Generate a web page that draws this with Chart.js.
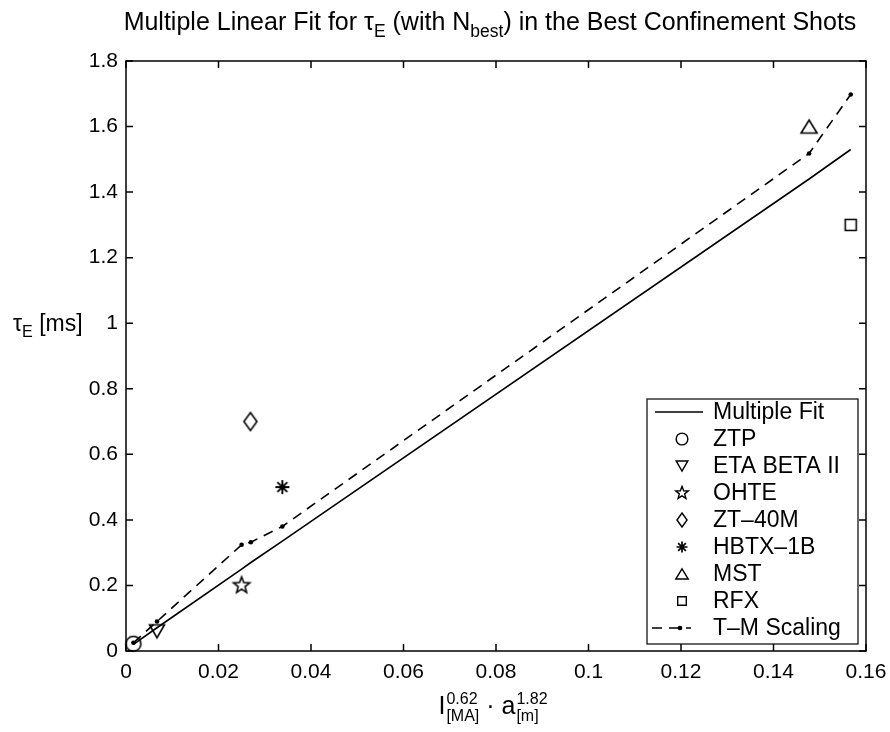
<!DOCTYPE html>
<html>
<head>
<meta charset="utf-8">
<script src="https://cdn.jsdelivr.net/npm/chart.js@4.4.1/dist/chart.umd.min.js"></script>
<style>
  body { margin: 0; background: #fff; }
  #wrap { position: relative; width: 890px; height: 732px; font-family: "Liberation Sans", Arial, sans-serif; color: #000; }
  #chart { position: absolute; left: 0; top: 0; }
  .lbl { position: absolute; white-space: nowrap; }
  .lbl sub { font-size: 70%; vertical-align: -0.4em; line-height: 0; }
  #title { left: 490px; top: 7px; transform: translateX(-50%); font-size: 25px; }
  #ylabel { left: 13px; top: 310px; font-size: 23px; }
  #xlabel { left: 493px; top: 690px; transform: translateX(-50%); font-size: 25px; }
  .ss { display: inline-flex; flex-direction: column; font-size: 16px; line-height: 17px; vertical-align: middle; margin-left: 1px; }
</style>
</head>
<body>
<div id="wrap">
  <canvas id="chart" width="890" height="732"></canvas>
  <div id="title" class="lbl">Multiple Linear Fit for τ<sub>E</sub> (with N<sub>best</sub>) in the Best Confinement Shots</div>
  <div id="ylabel" class="lbl">τ<sub>E</sub> [ms]</div>
  <div id="xlabel" class="lbl">I<span class="ss"><span>0.62</span><span>[MA]</span></span> · a<span class="ss"><span>1.82</span><span>[m]</span></span></div>
</div>
<script>
// ---- data ----
const fitX = [0.0016, 0.0067, 0.025, 0.027, 0.0338, 0.1477, 0.1567];
const fitY = [0.02, 0.071, 0.25, 0.27, 0.335, 1.44, 1.53];
const tmY = [0.025, 0.09, 0.324, 0.332, 0.38, 1.518, 1.698];

const deviceNames = ['ZTP', 'ETA BETA II', 'OHTE', 'ZT–40M', 'HBTX–1B', 'MST', 'RFX'];
const deviceX = [0.0016, 0.0067, 0.025, 0.0269, 0.0338, 0.1477, 0.1567];
const deviceY = [0.022, 0.06, 0.2, 0.7, 0.5, 1.6, 1.3];

const xTickLabels = ['0', '0.02', '0.04', '0.06', '0.08', '0.1', '0.12', '0.14', '0.16'];
const yTickLabels = ['0', '0.2', '0.4', '0.6', '0.8', '1', '1.2', '1.4', '1.6', '1.8'];

// marker style per device (same order as deviceNames)
const markerKinds = ['circle', 'triDown', 'star5', 'diamond', 'asterisk', 'triUp', 'square'];

// ---- marker drawing ----
function markerPath(ctx, kind, cx, cy, s) {
  ctx.beginPath();
  switch (kind) {
    case 'circle':
      ctx.arc(cx, cy, 7.5 * s, 0, Math.PI * 2);
      break;
    case 'triDown':
      ctx.moveTo(cx - 7.5 * s, cy - 6.5 * s);
      ctx.lineTo(cx + 7.5 * s, cy - 6.5 * s);
      ctx.lineTo(cx, cy + 6.5 * s);
      ctx.closePath();
      break;
    case 'triUp':
      ctx.moveTo(cx - 8 * s, cy + 6.5 * s);
      ctx.lineTo(cx + 8 * s, cy + 6.5 * s);
      ctx.lineTo(cx, cy - 6.5 * s);
      ctx.closePath();
      break;
    case 'star5':
      for (let i = 0; i < 10; i++) {
        const r = (i % 2 === 0 ? 8.5 : 3.6) * s;
        const a = -Math.PI / 2 + i * Math.PI / 5;
        const px = cx + r * Math.cos(a), py = cy + r * Math.sin(a);
        if (i === 0) ctx.moveTo(px, py); else ctx.lineTo(px, py);
      }
      ctx.closePath();
      break;
    case 'diamond':
      ctx.moveTo(cx, cy - 9 * s);
      ctx.lineTo(cx + 6.5 * s, cy);
      ctx.lineTo(cx, cy + 9 * s);
      ctx.lineTo(cx - 6.5 * s, cy);
      ctx.closePath();
      break;
    case 'asterisk':
      for (let i = 0; i < 4; i++) {
        const a = i * Math.PI / 4;
        const r = 7 * s;
        ctx.moveTo(cx - r * Math.cos(a), cy - r * Math.sin(a));
        ctx.lineTo(cx + r * Math.cos(a), cy + r * Math.sin(a));
      }
      break;
    case 'square':
      ctx.rect(cx - 5.5 * s, cy - 5.5 * s, 11 * s, 11 * s);
      break;
  }
  ctx.stroke();
}

function markerImage(kind) {
  const c = document.createElement('canvas');
  c.width = 24; c.height = 24;
  const g = c.getContext('2d');
  g.strokeStyle = '#000';
  g.lineWidth = kind === 'asterisk' ? 1.9 : 1.6;
  markerPath(g, kind, 12, 12, 1);
  return c;
}

// ---- datasets ----
const datasets = [
  {
    label: 'Multiple Fit',
    data: fitX.map((x, i) => ({ x: x, y: fitY[i] })),
    showLine: true, borderColor: '#000', borderWidth: 1.6,
    pointRadius: 0, order: 2
  },
  {
    label: 'T–M Scaling',
    data: fitX.map((x, i) => ({ x: x, y: tmY[i] })),
    showLine: true, borderColor: '#000', borderWidth: 1.6, borderDash: [10, 7],
    pointRadius: 2.3, pointBackgroundColor: '#000', pointBorderWidth: 0, order: 1
  }
];
deviceNames.forEach((name, i) => {
  datasets.push({
    label: name,
    data: [{ x: deviceX[i], y: deviceY[i] }],
    pointStyle: markerImage(markerKinds[i]),
    pointRadius: 8, clip: false, order: 0
  });
});

// ---- frame, inward ticks and legend ----
const framePlugin = {
  id: 'frame',
  afterDatasetsDraw(chart) {
    const { ctx, chartArea: a, scales: { x, y } } = chart;
    ctx.save();
    ctx.strokeStyle = '#000';
    ctx.lineWidth = 1.5;
    ctx.strokeRect(a.left, a.top, a.right - a.left, a.bottom - a.top);
    const L = 7;
    ctx.beginPath();
    x.ticks.forEach(t => {
      const px = x.getPixelForValue(t.value);
      ctx.moveTo(px, a.bottom); ctx.lineTo(px, a.bottom - L);
      ctx.moveTo(px, a.top); ctx.lineTo(px, a.top + L);
    });
    y.ticks.forEach(t => {
      const py = y.getPixelForValue(t.value);
      ctx.moveTo(a.left, py); ctx.lineTo(a.left + L, py);
      ctx.moveTo(a.right, py); ctx.lineTo(a.right - L, py);
    });
    ctx.stroke();
    ctx.restore();
  },
  afterDraw(chart) {
    const ctx = chart.ctx;
    const a = chart.chartArea;
    const box = { left: 647, top: 399, right: a.right - 8, bottom: a.bottom - 7 };
    ctx.save();
    ctx.fillStyle = '#fff';
    ctx.fillRect(box.left, box.top, box.right - box.left, box.bottom - box.top);
    ctx.strokeStyle = '#000';
    ctx.lineWidth = 1.2;
    ctx.strokeRect(box.left, box.top, box.right - box.left, box.bottom - box.top);

    const rowH = 27, y0 = box.top + 13, mx = 682, tx = 713;
    ctx.font = '23px "Liberation Sans", Arial, sans-serif';
    ctx.fillStyle = '#000';
    ctx.textBaseline = 'middle';
    const rows = ['Multiple Fit'].concat(deviceNames, ['T–M Scaling']);
    rows.forEach((txt, i) => {
      const yy = y0 + i * rowH;
      ctx.fillText(txt, tx, yy + 1);
      ctx.lineWidth = 1.5;
      if (i === 0) {
        ctx.beginPath(); ctx.moveTo(655, yy); ctx.lineTo(703, yy); ctx.stroke();
      } else if (i === rows.length - 1) {
        ctx.setLineDash([10, 7]);
        ctx.beginPath(); ctx.moveTo(652, yy); ctx.lineTo(691, yy); ctx.stroke();
        ctx.setLineDash([]);
        ctx.beginPath(); ctx.arc(680, yy, 2.3, 0, Math.PI * 2); ctx.fill();
      } else {
        ctx.lineWidth = markerKinds[i - 1] === 'asterisk' ? 1.7 : 1.4;
        markerPath(ctx, markerKinds[i - 1], mx, yy, 0.78);
      }
    });
    ctx.restore();
  }
};

const tickFont = { family: '"Liberation Sans", Arial, sans-serif', size: 21 };

new Chart(document.getElementById('chart'), {
  type: 'scatter',
  data: { datasets: datasets },
  options: {
    responsive: false,
    animation: false,
    layout: { padding: { left: 0, top: 61, right: 24, bottom: 1 } },
    plugins: { legend: { display: false }, tooltip: { enabled: false } },
    scales: {
      x: {
        type: 'linear', min: 0, max: 0.16,
        grid: { display: false, drawTicks: false },
        border: { display: false },
        ticks: {
          stepSize: 0.02, color: '#000', font: tickFont, padding: 9, maxRotation: 0,
          callback: (v, i) => xTickLabels[i]
        },
        afterFit: s => { s.height = 80; s.paddingLeft = 0; s.paddingRight = 0; }
      },
      y: {
        type: 'linear', min: 0, max: 1.8,
        grid: { display: false, drawTicks: false },
        border: { display: false },
        ticks: {
          stepSize: 0.2, color: '#000', font: tickFont, padding: 8,
          callback: (v, i) => yTickLabels[i]
        },
        afterFit: s => { s.width = 126; s.paddingTop = 0; s.paddingBottom = 0; }
      }
    }
  },
  plugins: [framePlugin]
});
</script>
</body>
</html>
